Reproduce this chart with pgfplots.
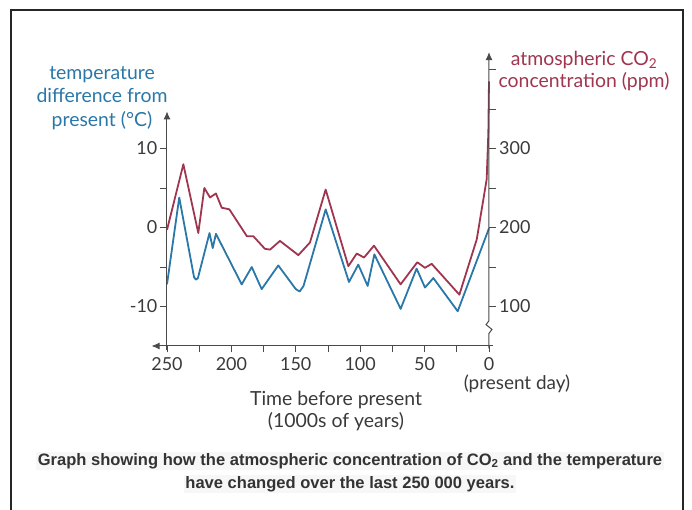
\documentclass[border=0pt]{standalone}
\usepackage{pgfplots}
\pgfplotsset{compat=1.18}
\usepackage{pgfplotstable}
\usepackage{fontspec}
\setmainfont{Lato}
\newfontfamily\capfont{Liberation Sans}
\usetikzlibrary{arrows.meta}

\definecolor{tempblue}{HTML}{2A77A8}
\definecolor{co2red}{HTML}{A0354F}
\definecolor{axgray}{HTML}{4A4A4A}
\definecolor{txtgray}{HTML}{3A3A3A}

% temperature difference from present (deg C)
\pgfplotstableread{
x T
250 -7.2
240.5 3.8
229 -6.3
227.5 -6.6
226 -6.4
217 -0.7
214.5 -2.6
212 -0.8
192 -7.2
184.2 -5.0
176.5 -7.8
163.6 -4.8
150 -7.8
147 -8.1
144 -7.4
126.8 2.3
108.7 -6.9
101.5 -4.7
94.2 -7.4
89 -3.4
68.6 -10.3
56.2 -5.2
49.7 -7.6
43.2 -6.4
24.3 -10.6
0 -0.1
}\temptable

% atmospheric CO2 (ppm)
\pgfplotstableread{
x c
250 197
237.3 280
225.7 193
221 250
216.6 238
212 243
207.5 225
201.6 223
188 189
183 189
174 173
170 172
162.3 183
148 165
139 181
126.8 248
109.2 151
102.7 167
97 162
89.3 177
68.6 128
55.7 156
49.7 149
44.5 154
23 115
9.5 185
1.8 261
0.5 320
0 385
}\cotable

\begin{document}
\begin{tikzpicture}
\useasboundingbox (0,0) rectangle (692bp,510bp);
\draw[line width=1.2bp, black!85] (11bp,0) -- (11bp,500bp) -- (683bp,500bp) -- (683bp,0);

\pgfplotsset{
  base/.style={
    scale only axis, width=322bp,
    xmin=0, xmax=250, x dir=reverse,
    at={(167bp,164bp)}, anchor=south west,
    clip=false,
    axis line style={draw=none},
    tick align=outside,
    major tick length=6.5bp, minor tick length=6.5bp,
    tick style={axgray, line width=0.9bp},
    ticklabel style={font=\fontsize{18}{20}\selectfont, text=txtgray},
    /pgf/number format/assume math mode=true,
  }
}

% temperature axis
\begin{axis}[base, height=234.6bp, ymin=-15, ymax=14.7,
  axis x line*=bottom, axis y line*=left,
  xtick={0,50,...,250}, minor xtick={25,75,...,225},
  ytick={-10,0,10}, minor ytick={-5,5},
  yticklabel style={inner sep=3bp},
  xticklabel style={inner sep=4.5bp}]
\addplot[tempblue, line width=1.8bp, line join=round] table[x=x,y=T] \temptable;
\draw[axgray, line width=1bp, -{Latex[length=8bp,width=7bp]}] (axis cs:-3,-15) -- (axis cs:262,-15);
\draw[axgray, line width=1bp, -{Latex[length=8bp,width=7bp]}] (axis cs:250,-15.5) -- (axis cs:250,14.7);
\end{axis}

% CO2 axis
\begin{axis}[base, height=293.9bp, ymin=50, ymax=422,
  axis x line=none, axis y line*=right,
  ytick={100,200,300}, minor ytick={150,250,350,400},
  yticklabel style={inner sep=3.5bp}]
\addplot[co2red, line width=1.8bp, line join=round] table[x=x,y=c] \cotable;
\draw[axgray, line width=1bp, -{Latex[length=8bp,width=7bp]}] (axis cs:0,47) -- (axis cs:0,66) -- (axis cs:-2.3,71) -- (axis cs:2.3,77) -- (axis cs:0,82) -- (axis cs:0,422);
\end{axis}

\node[align=center, text=tempblue, font=\fontsize{19.5}{23.5}\selectfont] at (102bp,412bp)
  {temperature\\difference from\\present (°C)};
\node[align=center, text=co2red, font=\fontsize{19.5}{22}\selectfont] at (584bp,439bp)
  {atmospheric CO\textsubscript{2}\\concentration (ppm)};
\node[align=center, text=txtgray, font=\fontsize{19.5}{23}\selectfont] at (336bp,99bp)
  {Time before present\\(1000s of years)};
\node[text=txtgray, font=\fontsize{19}{21}\selectfont] at (517bp,126bp) {(present day)};

\node[text=black!80, fill=black!3, inner sep=1.5bp, font=\capfont\bfseries\fontsize{16.6}{19}\selectfont] at (350bp,49bp)
  {Graph showing how the atmospheric concentration of CO\textsubscript{2} and the temperature};
\node[text=black!80, fill=black!3, inner sep=1.5bp, font=\capfont\bfseries\fontsize{16.6}{19}\selectfont] at (350bp,26bp)
  {have changed over the last 250 000 years.};
\end{tikzpicture}
\end{document}
